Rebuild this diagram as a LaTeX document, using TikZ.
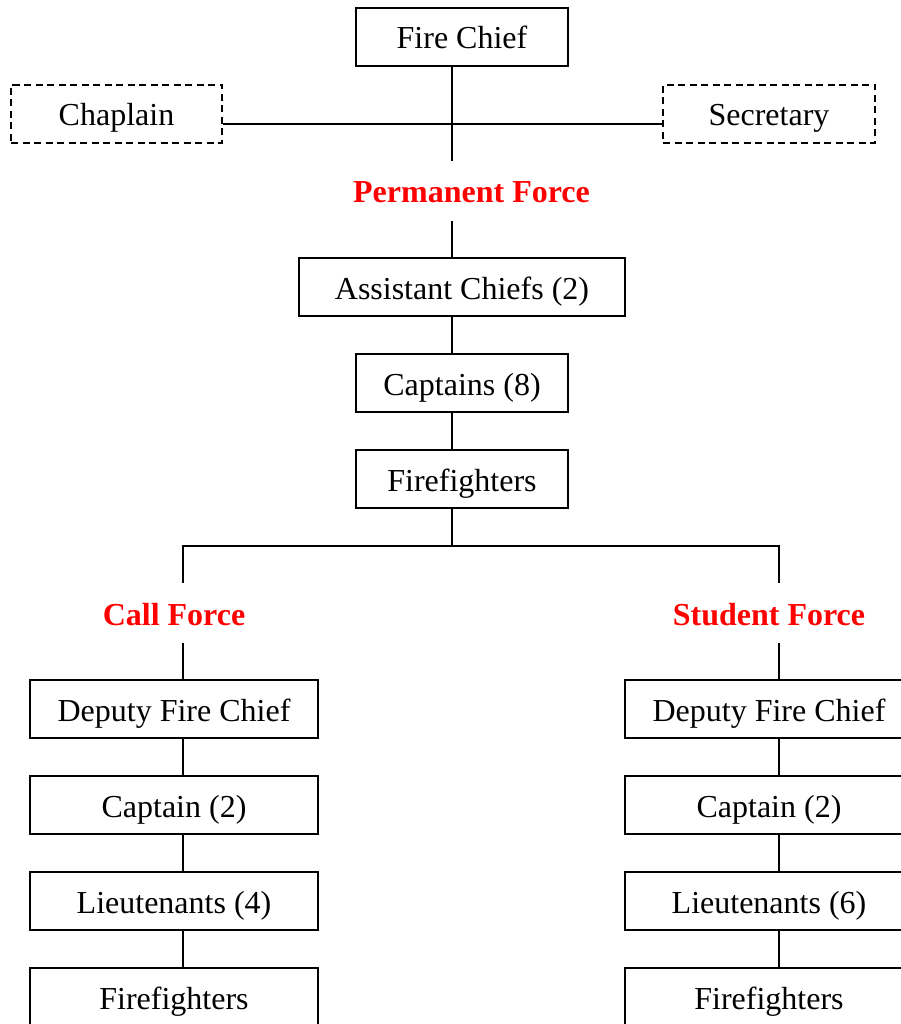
\documentclass[tikz,border=0pt]{standalone}
\usepackage{fontspec}
\setmainfont{Liberation Serif}
\begin{document}
\begin{tikzpicture}[x=1pt,y=-1pt,line width=1.8pt,
  box/.style={draw,rectangle,inner sep=0pt,minimum height=58pt,text height=25pt,text depth=1pt,font=\fontsize{32}{38}\selectfont},
  dbox/.style={box,dash pattern=on 7pt off 4.5pt},
  force/.style={inner sep=0pt,minimum height=58pt,text height=25pt,text depth=1pt,text=red,font=\fontsize{32}{38}\selectfont\bfseries},
  conn/.style={draw,line width=1.8pt}]
\useasboundingbox (0,0) rectangle (901,1024);
\clip (0,0) rectangle (901,1024);
% spines
\coordinate (sp) at (452,0);
\coordinate (lsp) at (183,0);
\coordinate (rsp) at (779,0);
\coordinate (hl) at (0,124);
\coordinate (bj) at (452,546);
% top
\node[box,minimum width=212pt] (fc) at (462,37) {Fire Chief};
\node[dbox,minimum width=211pt] (chap) at (116.5,114) {Chaplain};
\node[dbox,minimum width=212pt] (sec) at (769,114) {Secretary};
\node[force] (pf) at (471.5,191) {Permanent Force};
\node[box,minimum width=326pt] (ac) at (462,287) {Assistant Chiefs (2)};
\node[box,minimum width=212pt] (cap) at (462,383) {Captains (8)};
\node[box,minimum width=212pt] (ff) at (462,479) {Firefighters};
% branches
\node[force] (call) at (174,613) {Call Force};
\node[force] (stud) at (769,613) {Student Force};
\node[box,minimum width=288pt] (ldc) at (174,709) {Deputy Fire Chief};
\node[box,minimum width=288pt] (lcp) at (174,805) {Captain (2)};
\node[box,minimum width=288pt] (llt) at (174,901) {Lieutenants (4)};
\node[box,minimum width=288pt] (lff) at (174,997) {Firefighters};
\node[box,minimum width=288pt] (rdc) at (769,709) {Deputy Fire Chief};
\node[box,minimum width=288pt] (rcp) at (769,805) {Captain (2)};
\node[box,minimum width=288pt] (rlt) at (769,901) {Lieutenants (6)};
\node[box,minimum width=288pt] (rff) at (769,997) {Firefighters};
% connectors
\draw[conn] (fc.south -| sp) -- (pf.north -| sp);
\draw[conn] (chap.east |- hl) -- (sec.west |- hl);
\draw[conn] (pf.south -| sp) -- (ac.north -| sp);
\draw[conn] (ac.south -| sp) -- (cap.north -| sp);
\draw[conn] (cap.south -| sp) -- (ff.north -| sp);
\draw[conn] (ff.south -| sp) -- (bj);
\draw[conn] (call.north -| lsp) |- (bj) -| (stud.north -| rsp);
\draw[conn] (call.south -| lsp) -- (ldc.north -| lsp);
\draw[conn] (ldc.south -| lsp) -- (lcp.north -| lsp);
\draw[conn] (lcp.south -| lsp) -- (llt.north -| lsp);
\draw[conn] (llt.south -| lsp) -- (lff.north -| lsp);
\draw[conn] (stud.south -| rsp) -- (rdc.north -| rsp);
\draw[conn] (rdc.south -| rsp) -- (rcp.north -| rsp);
\draw[conn] (rcp.south -| rsp) -- (rlt.north -| rsp);
\draw[conn] (rlt.south -| rsp) -- (rff.north -| rsp);
\end{tikzpicture}
\end{document}
